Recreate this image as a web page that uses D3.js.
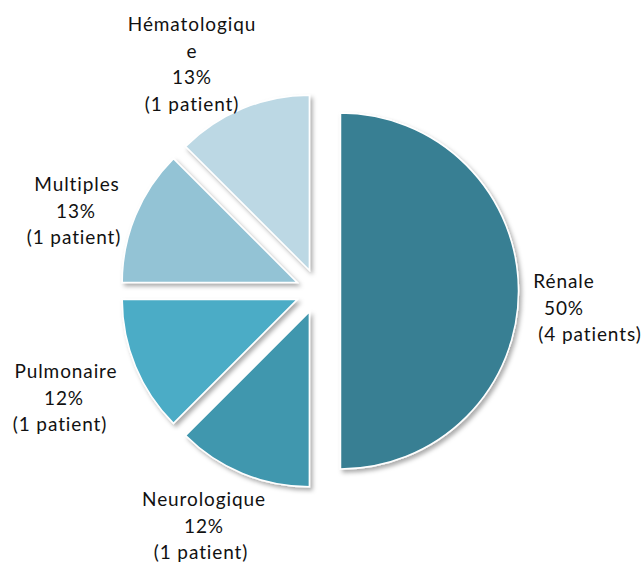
<!DOCTYPE html>
<html>
<head>
<meta charset="utf-8">
<script src="https://cdn.jsdelivr.net/npm/d3@7"></script>
<style>
  html, body { margin: 0; padding: 0; background: #fff; }
  svg { display: block; }
  text { font-family: Lato, "Liberation Sans", sans-serif; font-size: 19px; fill: #111; }
</style>
</head>
<body>
<svg id="chart" width="643" height="567"></svg>
<script>
// Data
const categories = ["Rénale", "Neurologique", "Pulmonaire", "Multiples", "Hématologique"];
const patients = [4, 1, 1, 1, 1];
const percentLabels = ["50%", "12%", "12%", "13%", "13%"];
const patientLabels = ["(4 patients)", "(1 patient)", "(1 patient)", "(1 patient)", "(1 patient)"];
const colors = ["#377f93", "#4197ae", "#4bacc6", "#93c3d5", "#bcd8e4"];

// Label text lines (category name wrapped as in original)
const nameLines = [["Rénale"], ["Neurologique"], ["Pulmonaire"], ["Multiples"], ["Hématologiqu", "e"]];

// Layout
const cx = 318, cy = 291, explode = 22.5;
const labelPos = [
  {x: 564, y: 288, dx: [0, 0, 26]},
  {x: 204, y: 506, dx: [0, 0, -3]},
  {x: 64, y: 378, dx: [2, 0, -4]},
  {x: 76, y: 191, dx: [1, 0, -2]},
  {x: 192, y: 31, dx: [0, 0, 0, 0]}
];
const lineH = 26.5;

const svg = d3.select("#chart");
const defs = svg.append("defs");
const f = defs.append("filter").attr("id", "shadow")
  .attr("x", "-10%").attr("y", "-10%").attr("width", "130%").attr("height", "130%");
f.append("feDropShadow").attr("dx", 2.5).attr("dy", 3).attr("stdDeviation", 2)
  .attr("flood-color", "#000").attr("flood-opacity", 0.33);

const pie = d3.pie().sort(null).value(d => d);
const arcs = pie(patients);
const arc = d3.arc().innerRadius(0).outerRadius((d, i) => i === 0 ? 178 : 175);

const g = svg.append("g").attr("transform", `translate(${cx},${cy})`);
g.selectAll("path.slice")
  .data(arcs)
  .join("path")
  .attr("class", "slice")
  .attr("transform", d => {
    const m = (d.startAngle + d.endAngle) / 2;
    return `translate(${explode * Math.sin(m)},${-explode * Math.cos(m)})`;
  })
  .attr("d", (d, i) => arc(d, i))
  .attr("fill", (d, i) => colors[i])
  .attr("stroke", "#fff")
  .attr("stroke-width", 1.5)
  .attr("filter", "url(#shadow)");

// Labels
categories.forEach((c, i) => {
  const lines = nameLines[i].concat([percentLabels[i], patientLabels[i]]);
  const p = labelPos[i];
  const t = svg.append("text").attr("text-anchor", "middle").attr("letter-spacing", "0.9px");
  lines.forEach((ln, j) => {
    t.append("tspan")
      .attr("x", p.x + (p.dx[j] || 0))
      .attr("y", p.y + j * lineH)
      .text(ln);
  });
});
</script>
</body>
</html>
